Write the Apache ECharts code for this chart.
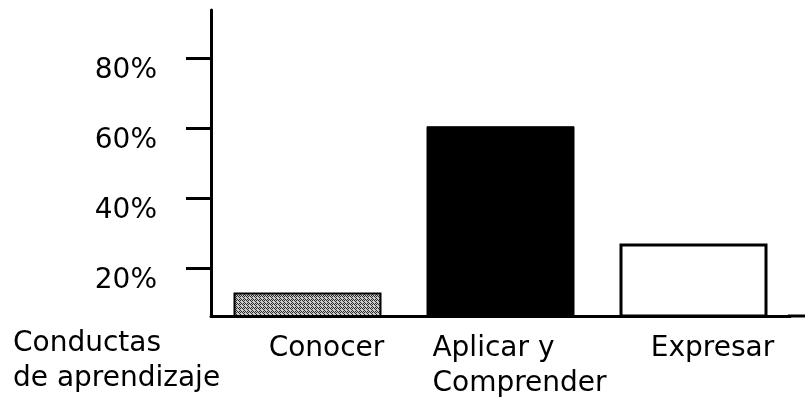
<!DOCTYPE html>
<html>
<head>
<meta charset="utf-8">
<script src="https://cdn.jsdelivr.net/npm/echarts@6/dist/echarts.min.js"></script>
<style>
html,body{margin:0;padding:0;background:#fff;}
#c{width:805px;height:410px;}
</style>
</head>
<body>
<div id="c"></div>
<script>
const categories = ['Conocer', 'Aplicar y\nComprender', 'Expresar'];
const values = [13, 60.5, 27];
const tickValues = [20, 40, 60, 80];
const yMin = 6.3;
const yMax = 93.7;
const axisTitle = 'Conductas\nde aprendizaje';

// stippled gray fill for the first bar
function makePattern() {
  const c = document.createElement('canvas');
  c.width = 4; c.height = 4;
  const ctx = c.getContext('2d');
  ctx.fillStyle = '#c8c8c8';
  ctx.fillRect(0, 0, 4, 4);
  ctx.fillStyle = '#2a2a2a';
  [[0,0],[2,0],[1,1],[3,1],[0,2],[2,2],[1,3],[3,3]].filter((p, i) => i % 3 !== 2).forEach(p => ctx.fillRect(p[0], p[1], 1, 1));
  return c;
}

const barStyles = [
  { color: { image: makePattern(), repeat: 'repeat' }, borderColor: '#000', borderWidth: 2 },
  { color: '#000', borderColor: '#000', borderWidth: 1 },
  { color: '#fff', borderColor: '#000', borderWidth: 3 }
];

const font = 'DejaVu Sans';
const fs = 28;
const chart = echarts.init(document.getElementById('c'));
chart.setOption({
  animation: false,
  backgroundColor: '#fff',
  title: {
    text: axisTitle,
    left: 8,
    top: 321,
    textStyle: { fontFamily: font, fontSize: fs, fontWeight: 'normal', color: '#000', lineHeight: 35 }
  },
  grid: { left: 211, right: 15, top: 10, bottom: 94 },
  xAxis: {
    type: 'category',
    data: categories,
    axisLine: { onZero: false, lineStyle: { color: '#000', width: 3 } },
    axisTick: { show: false },
    axisLabel: {
      margin: 15,
      padding: [0, 0, 0, 38],
      formatter: v => v.split('\n').map(s => '{a|' + s + '}').join('\n'),
      rich: { a: { fontFamily: font, fontSize: fs, color: '#000', lineHeight: 35, align: 'left' } }
    }
  },
  yAxis: {
    type: 'value',
    min: yMin,
    max: yMax,
    splitLine: { show: false },
    axisLine: { show: true, lineStyle: { color: '#000', width: 3 } },
    axisTick: { show: true, inside: false, length: 25, customValues: tickValues, lineStyle: { color: '#000', width: 3 } },
    axisLabel: {
      customValues: tickValues,
      formatter: v => v + '%',
      margin: 54,
      verticalAlign: 'top',
      fontFamily: font, fontSize: fs, color: '#000', lineHeight: 26
    }
  },
  series: [{
    type: 'bar',
    clip: true,
    barWidth: 148,
    data: values.map((v, i) => ({ value: v, itemStyle: barStyles[i] }))
  }]
});

// extend the baseline to the right edge, as in the reference
const baseY = chart.convertToPixel({ yAxisIndex: 0 }, yMin);
const c0 = chart.convertToPixel({ xAxisIndex: 0 }, categories[0]);
const c2 = chart.convertToPixel({ xAxisIndex: 0 }, categories[2]);
const gridRight = c2 + (c2 - c0) / 4;
chart.setOption({
  graphic: [{
    type: 'line',
    shape: { x1: gridRight - 2, y1: baseY, x2: 805, y2: baseY },
    style: { stroke: '#000', lineWidth: 3 }
  }]
});
</script>
</body>
</html>
